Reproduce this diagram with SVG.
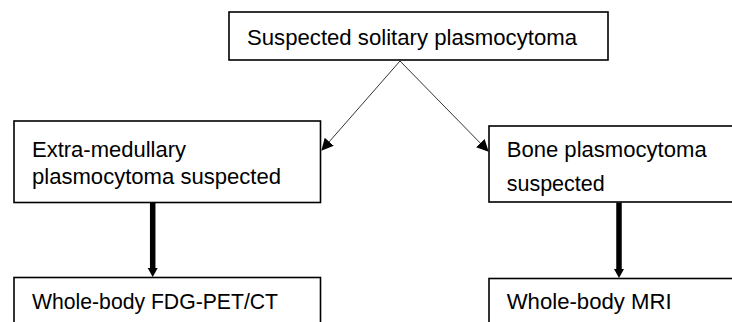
<svg xmlns="http://www.w3.org/2000/svg" width="732" height="322" viewBox="0 0 732 322">
<style>
.box{fill:#fff;stroke:#000;stroke-width:1.6}
.t{font-family:"Liberation Sans",Arial,sans-serif;font-size:21.5px;fill:#000}
.thin{stroke:#333;stroke-width:1;fill:none}
.thick{stroke:#000;stroke-width:5.5;fill:none}
</style>
<defs>
<marker id="ah" markerWidth="12" markerHeight="12" refX="11" refY="6" orient="auto" markerUnits="userSpaceOnUse">
<path d="M0,0 L12,6 L0,12 Z" fill="#000"/>
</marker>
</defs>
<g id="n_top">
<rect class="box" x="229" y="12" width="379" height="48"/>
<text class="t" x="247" y="45" textLength="330" lengthAdjust="spacingAndGlyphs">Suspected solitary plasmocytoma</text>
</g>
<g id="n_extra">
<rect class="box" x="14" y="121" width="306.5" height="81.5"/>
<text class="t" x="32" y="157" textLength="154" lengthAdjust="spacingAndGlyphs">Extra-medullary</text>
<text class="t" x="32" y="184" textLength="249" lengthAdjust="spacingAndGlyphs">plasmocytoma suspected</text>
</g>
<g id="n_bone">
<rect class="box" x="489" y="126" width="260" height="76"/>
<text class="t" x="506.7" y="157" textLength="200" lengthAdjust="spacingAndGlyphs">Bone plasmocytoma</text>
<text class="t" x="506.7" y="190.5" textLength="98" lengthAdjust="spacingAndGlyphs">suspected</text>
</g>
<g id="n_pet">
<rect class="box" x="14" y="277.5" width="306.5" height="60"/>
<text class="t" x="32" y="309" textLength="246" lengthAdjust="spacingAndGlyphs">Whole-body FDG-PET/CT</text>
</g>
<g id="n_mri">
<rect class="box" x="489" y="278.5" width="260" height="60"/>
<text class="t" x="506.7" y="309" textLength="165" lengthAdjust="spacingAndGlyphs">Whole-body MRI</text>
</g>
<g id="connectors">
<line class="thin" x1="400" y1="61" x2="322" y2="150" marker-end="url(#ah)"/>
<line class="thin" x1="400" y1="61" x2="488" y2="151" marker-end="url(#ah)"/>
<line class="thick" x1="152.7" y1="203" x2="152.7" y2="270"/>
<path d="M147.7,268 L157.7,268 L152.7,277 Z" fill="#000"/>
<line class="thick" x1="619" y1="202.5" x2="619" y2="271"/>
<path d="M614,269 L624,269 L619,278 Z" fill="#000"/>
</g>
</svg>
